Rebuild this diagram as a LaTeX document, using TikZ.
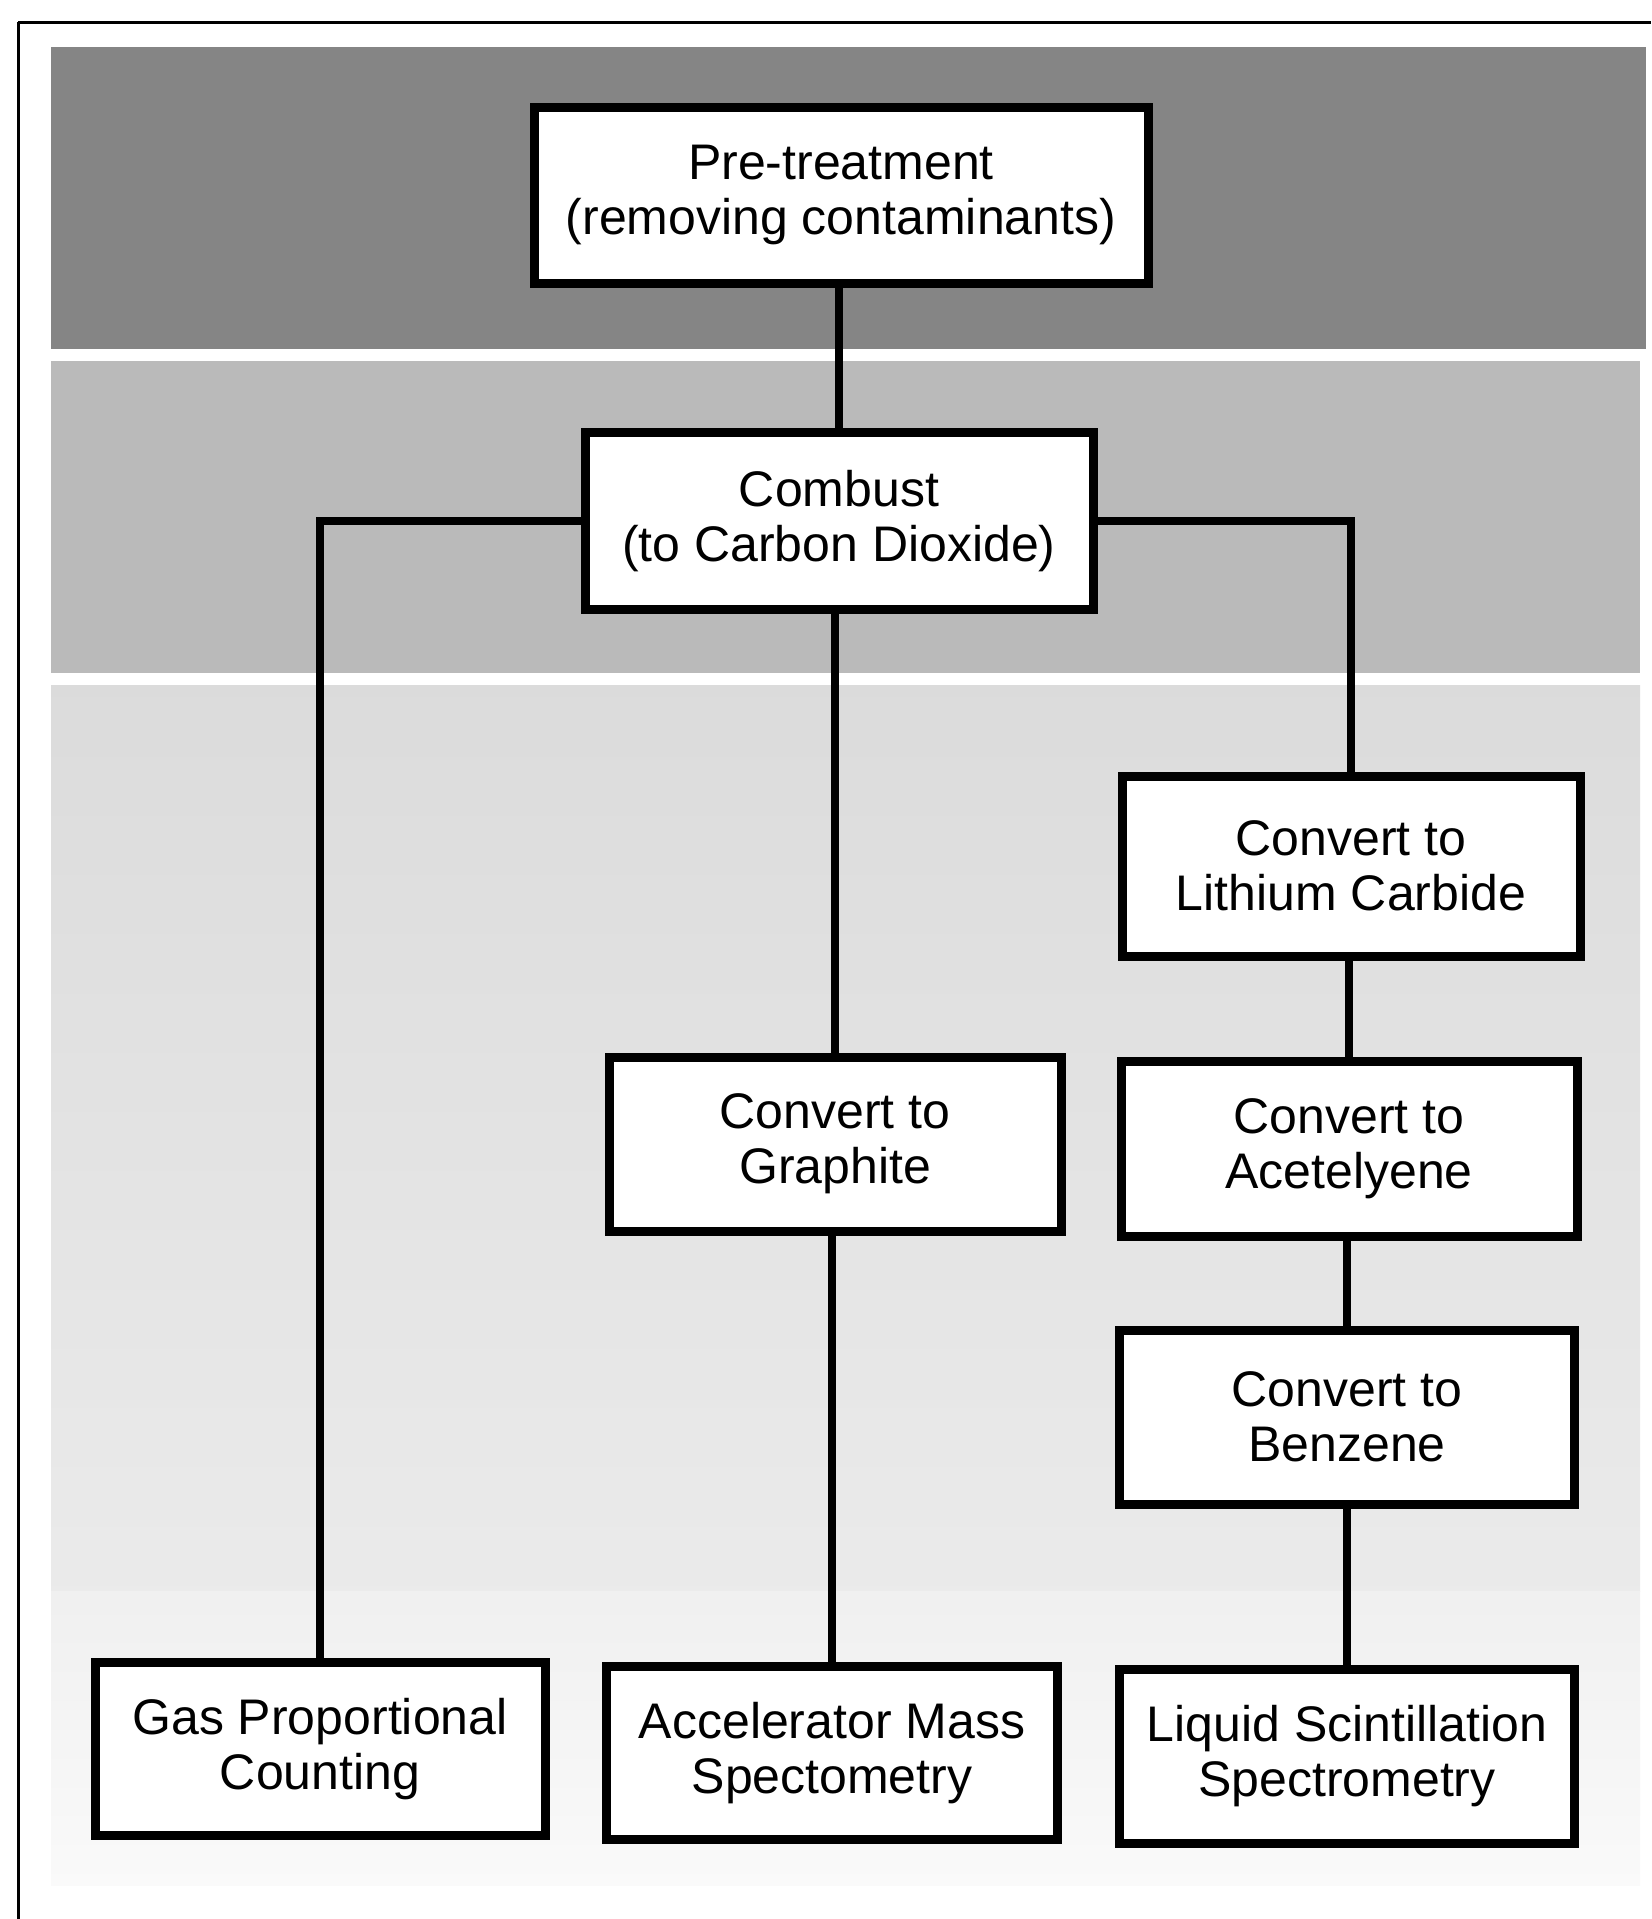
\documentclass[tikz,border=0pt]{standalone}
\usepackage{fontspec}
\newfontfamily\boxfont{Liberation Sans}
\begin{document}
\begin{tikzpicture}[x=0.5pt,y=-0.5pt,
  box/.style={draw=black, line width=4.5pt, fill=white, align=center, inner sep=0pt,
    font=\boxfont\fontsize{25pt}{27.5pt}\selectfont},
  link/.style={draw=black, line width=3.6pt},
  frame/.style={draw=black, line width=1.5pt}]
\useasboundingbox (0,0) rectangle (1651,1919);
\fill[white] (0,0) rectangle (1651,1919);
% background bands
\fill[black!48] (51,47) rectangle (1646,349);
\fill[black!27] (51,361) rectangle (1640,673);
\shade[top color=black!14, bottom color=black!8] (51,685) rectangle (1640,1591);
\shade[top color=black!6, bottom color=black!2] (51,1591) rectangle (1640,1885);
% frame (top and left)
\draw[frame] (18,22) -- (1651,22);
\draw[frame] (18,22) -- (18,1919);
% nodes
\node[box, minimum width=307pt, minimum height=88pt]   (pre)   at (841,195)  {Pre-treatment\\(removing contaminants)};
\node[box, minimum width=254pt, minimum height=88.5pt] (comb)  at (839,521)  {Combust\\(to Carbon Dioxide)};
\node[box, minimum width=229pt, minimum height=90pt]   (lith)  at (1351,866) {Convert to\\Lithium Carbide};
\node[box, minimum width=226pt, minimum height=87pt]   (graph) at (835,1144) {Convert to\\Graphite};
\node[box, minimum width=228pt, minimum height=87.5pt] (acet)  at (1349,1149) {Convert to\\Acetelyene};
\node[box, minimum width=227.5pt, minimum height=87pt] (benz)  at (1347,1417) {Convert to\\Benzene};
\node[box, minimum width=225pt, minimum height=86.5pt] (gas)   at (320,1749) {Gas Proportional\\Counting};
\node[box, minimum width=225.5pt, minimum height=86.5pt] (ams) at (832,1753) {Accelerator Mass\\Spectometry};
\node[box, minimum width=227.5pt, minimum height=87pt] (lss)   at (1347,1756) {Liquid Scintillation\\Spectrometry};
% connectors
\draw[link] (pre.south -| comb.north) -- (comb.north);
\draw[link] (comb.west) -| (gas.north);
\draw[link] (comb.east) -| (lith.north);
\draw[link] (comb.south -| graph.north) -- (graph.north);
\draw[link] (graph.south -| ams.north) -- (ams.north);
\draw[link] (lith.south -| acet.north) -- (acet.north);
\draw[link] (acet.south -| benz.north) -- (benz.north);
\draw[link] (benz.south -| lss.north) -- (lss.north);
\end{tikzpicture}
\end{document}
